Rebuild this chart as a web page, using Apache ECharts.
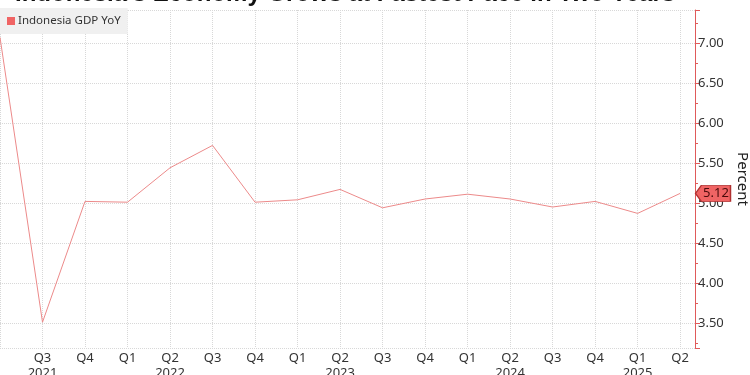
<!DOCTYPE html>
<html>
<head>
<meta charset="utf-8">
<script src="https://cdn.jsdelivr.net/npm/echarts@6/dist/echarts.min.js"></script>
<style>html,body{margin:0;padding:0;background:#fff}#c{width:750px;height:375px}</style>
</head>
<body>
<div id="c"></div>
<script>
const quarters = ['Q2','Q3','Q4','Q1','Q2','Q3','Q4','Q1','Q2','Q3','Q4','Q1','Q2','Q3','Q4','Q1','Q2'];
const yearLabels = ['', '2021', '', '', '2022', '', '', '', '2023', '', '', '', '2024', '', '', '2025', ''];
const gdpYoY = [7.07, 3.51, 5.02, 5.01, 5.44, 5.72, 5.01, 5.04, 5.17, 4.94, 5.05, 5.11, 5.05, 4.95, 5.02, 4.87, 5.12];
const seriesName = 'Indonesia GDP YoY';
const titleText = "Indonesia's Economy Grows at Fastest Pace in Two Years";

const chart = echarts.init(document.getElementById('c'));
const lastIdx = gdpYoY.length - 1;
const xMax = 16.35;
const fontFam = '"Noto Sans", Tahoma, sans-serif';

chart.setOption({
  animation: false,
  title: {
    text: titleText, left: 10, top: -23,
    textStyle: { fontFamily: 'Liberation Sans, Arial, sans-serif', fontWeight: 'bold', fontSize: 24, color: '#111' }
  },
  legend: {
    left: 0, top: 8, padding: [7, 7, 7, 7], backgroundColor: '#f0f0f0',
    itemWidth: 8, itemHeight: 8, itemGap: 4, icon: 'rect',
    textStyle: { fontFamily: fontFam, fontSize: 11.5, color: '#333', padding: [0,0,0,-2] },
    data: [seriesName]
  },
  grid: { left: 0, right: 55, top: 10, bottom: 27, containLabel: false, outerBoundsMode: 'none' },
  xAxis: {
    type: 'value', min: 0, max: xMax, interval: 1,
    axisLine: { show: false }, axisTick: { show: false },
    splitLine: { show: true, lineStyle: { color: '#d8d8d8', type: 'dotted', width: 1 } },
    axisLabel: {
      showMinLabel: false, showMaxLabel: false, margin: 3,
      fontFamily: fontFam, fontSize: 13, color: '#333', lineHeight: 15,
      formatter: function (v) {
        if (Math.abs(v - Math.round(v)) > 1e-6) return '';
        const i = Math.round(v);
        if (i < 0 || i >= quarters.length) return '';
        return yearLabels[i] ? quarters[i] + '\n' + yearLabels[i] : quarters[i];
      }
    }
  },
  yAxis: {
    type: 'value', position: 'right', min: 3.1875, max: 7.4125, splitNumber: 8,
    name: 'Percent', nameLocation: 'middle', nameRotate: -90, nameGap: 40,
    nameTextStyle: { fontFamily: fontFam, fontSize: 15, color: '#222' },
    axisLine: { show: true, onZero: false, lineStyle: { color: '#e05a5a', width: 1 } },
    axisTick: { show: true, length: 5, lineStyle: { color: '#e05a5a' } },
    minorTick: { show: true, splitNumber: 2, length: 3, lineStyle: { color: '#e05a5a' } },
    splitLine: { show: true, lineStyle: { color: '#d8d8d8', type: 'dotted', width: 1 } },
    axisLabel: {
      showMinLabel: false, showMaxLabel: false, margin: 3,
      fontFamily: fontFam, fontSize: 13, color: '#333',
      formatter: v => v.toFixed(2)
    }
  },
  series: [{
    name: seriesName, type: 'line', showSymbol: false, symbol: 'none',
    color: '#f06464',
    lineStyle: { color: '#ec8a8a', width: 1 },
    data: gdpYoY.map((v, i) => [i, v]),
    markPoint: {
      silent: true,
      symbol: 'path://M0,8 L6,0 L36,0 L36,16 L6,16 Z',
      symbolKeepAspect: false,
      symbolSize: [35, 16],
      symbolOffset: [18, 0],
      itemStyle: { color: '#f06464', borderColor: '#b03030', borderWidth: 1 },
      label: {
        show: true, position: 'inside', offset: [3, 0],
        fontFamily: fontFam, fontSize: 13, color: '#4a0a0a',
        formatter: p => gdpYoY[lastIdx].toFixed(2)
      },
      data: [{ coord: [xMax, gdpYoY[lastIdx]] }]
    }
  }]
});
</script>
</body>
</html>
